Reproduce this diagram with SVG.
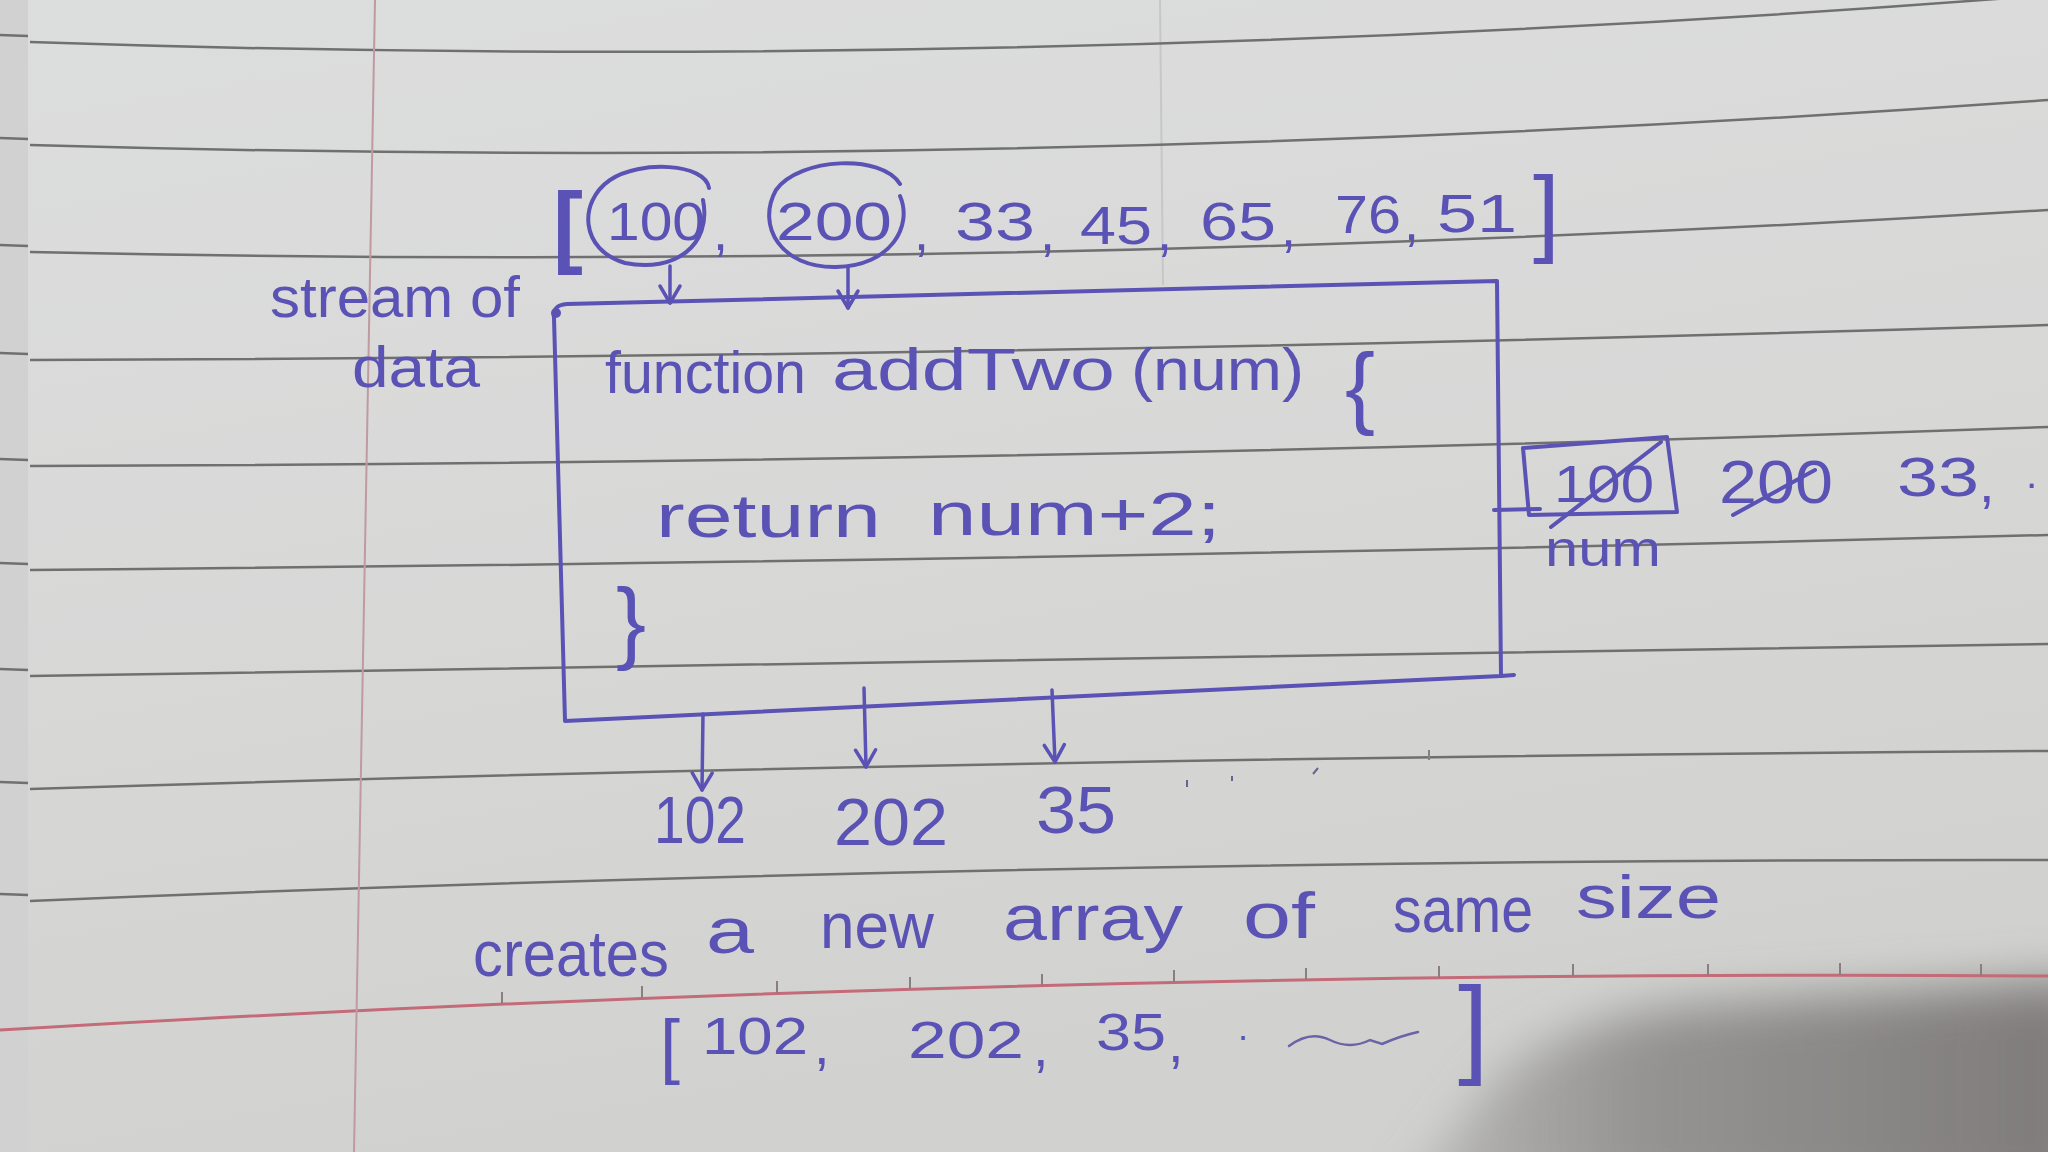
<svg xmlns="http://www.w3.org/2000/svg" width="2048" height="1152" viewBox="0 0 2048 1152">
  <defs>
    <linearGradient id="paper" x1="0" y1="0" x2="0.3" y2="1">
      <stop offset="0" stop-color="#dcdddd"/>
      <stop offset="0.6" stop-color="#d7d8d6"/>
      <stop offset="1" stop-color="#d1d2cf"/>
    </linearGradient>
    <linearGradient id="shade" x1="0" y1="0" x2="1" y2="0">
      <stop offset="0" stop-color="#8c8a89" stop-opacity="0.35"/>
      <stop offset="0.35" stop-color="#868483" stop-opacity="0.8"/>
      <stop offset="1" stop-color="#7d7a79" stop-opacity="1"/>
    </linearGradient>
    <filter id="blur" x="-20%" y="-30%" width="140%" height="160%">
      <feGaussianBlur stdDeviation="24"/>
    </filter>
    <marker id="vhead" viewBox="-20 -14 24 28" refX="0" refY="0" markerWidth="24" markerHeight="28" markerUnits="userSpaceOnUse" orient="auto">
      <path d="M -17,-10 L 0,0 L -17,10" fill="none" stroke="#5a52b4" stroke-width="3.5" stroke-linecap="round" stroke-linejoin="round"/>
    </marker>
    <style>
      .rule { fill: none; stroke: #6f706f; stroke-width: 2.5; }
      .red { fill: none; stroke: #c46a78; stroke-width: 3; }
      .tick { stroke: #8a7f80; stroke-width: 2; }
      .ink { fill: none; stroke: #5a52b4; stroke-width: 4; stroke-linecap: round; stroke-linejoin: round; }
      .conn { fill: none; stroke: #5a52b4; stroke-width: 3.5; stroke-linecap: round; marker-end: url(#vhead); }
      .hw { font-family: "Liberation Sans", "DejaVu Sans", sans-serif; fill: #5a52b4; }
    </style>
  </defs>

  <!-- paper -->
  <rect x="0" y="0" width="2048" height="1152" fill="url(#paper)"/>
  <rect x="0" y="0" width="28" height="1152" fill="#d0d1d0"/>
  <path d="M 1400,1200 L 1500,1075 Q 1580,1010 1720,1002 L 2090,978 L 2090,1200 Z" fill="url(#shade)" filter="url(#blur)"/>

  <!-- faint bleed-through margin of reverse page -->
  <line x1="1160" y1="0" x2="1163" y2="285" stroke="#c6c7c7" stroke-width="2"/>

  <!-- ruled lines -->
  <g id="ruling">
    <path class="rule" d="M 0,35 L 28,36 M 30,42 Q 1024,75.5 2048,-5"/>
    <path class="rule" d="M 0,138 L 28,139 M 30,145 Q 1024,173.5 2048,100"/>
    <path class="rule" d="M 0,245 L 28,246 M 30,252 Q 1024,273 2048,210"/>
    <path class="rule" d="M 0,353 L 28,354 M 30,360 Q 1024,357.5 2048,325"/>
    <path class="rule" d="M 0,459 L 28,460 M 30,466 Q 1024,463.5 2048,427"/>
    <path class="rule" d="M 0,563 L 28,564 M 30,570 Q 1024,561.5 2048,535"/>
    <path class="rule" d="M 0,669 L 28,670 M 30,676 Q 1024,664 2048,644"/>
    <path class="rule" d="M 0,782 L 28,783 M 30,789 Q 1024,757.5 2048,751"/>
    <path class="rule" d="M 0,894 L 28,895 M 30,901 Q 1024,859 2048,860"/>
    <path class="red" d="M 0,1030 Q 1024,969 2048,976"/>
    <line x1="375" y1="0" x2="354" y2="1152" stroke="#bf9aa1" stroke-width="2"/>
    <g>
      <line class="tick" x1="502" y1="1004" x2="502" y2="992"/>
      <line class="tick" x1="642" y1="998" x2="642" y2="986"/>
      <line class="tick" x1="777" y1="993" x2="777" y2="981"/>
      <line class="tick" x1="910" y1="989" x2="910" y2="977"/>
      <line class="tick" x1="1042" y1="986" x2="1042" y2="974"/>
      <line class="tick" x1="1174" y1="982" x2="1174" y2="970"/>
      <line class="tick" x1="1306" y1="980" x2="1306" y2="968"/>
      <line class="tick" x1="1439" y1="978" x2="1439" y2="966"/>
      <line class="tick" x1="1573" y1="976" x2="1573" y2="964"/>
      <line class="tick" x1="1708" y1="976" x2="1708" y2="964"/>
      <line class="tick" x1="1840" y1="975" x2="1840" y2="963"/>
      <line class="tick" x1="1981" y1="976" x2="1981" y2="964"/>
      <line class="tick" x1="1429" y1="760" x2="1429" y2="750"/>
    </g>
  </g>

  <!-- label: stream of data -->
  <g id="stream-label">
    <text class="hw" x="270" y="317" font-size="58" textLength="250" lengthAdjust="spacingAndGlyphs">stream of</text>
    <text class="hw" x="352" y="387" font-size="58" textLength="128" lengthAdjust="spacingAndGlyphs">data</text>
  </g>

  <!-- input array -->
  <g id="input-array">
    <text class="hw" x="553" y="256" font-size="90" font-weight="bold">[</text>
    <path class="ink" d="M 709,188 C 705,163 640,160 610,180 C 578,202 580,250 625,263 C 675,273 712,245 703,200"/>
    <path class="ink" d="M 900,184 C 882,154 800,157 776,190 C 756,226 781,268 836,267 C 891,266 913,226 900,196"/>
    <text class="hw" x="607" y="240" font-size="54" textLength="98" lengthAdjust="spacingAndGlyphs">100</text>
    <text class="hw" x="713" y="250" font-size="54">,</text>
    <text class="hw" x="776" y="240" font-size="54" textLength="116" lengthAdjust="spacingAndGlyphs">200</text>
    <text class="hw" x="914" y="250" font-size="54">,</text>
    <text class="hw" x="955" y="240" font-size="54" textLength="80" lengthAdjust="spacingAndGlyphs">33</text>
    <text class="hw" x="1040" y="250" font-size="54">,</text>
    <text class="hw" x="1080" y="244" font-size="54" textLength="72" lengthAdjust="spacingAndGlyphs">45</text>
    <text class="hw" x="1157" y="250" font-size="54">,</text>
    <text class="hw" x="1200" y="240" font-size="54" textLength="76" lengthAdjust="spacingAndGlyphs">65</text>
    <text class="hw" x="1281" y="246" font-size="54">,</text>
    <text class="hw" x="1335" y="233" font-size="54" textLength="66" lengthAdjust="spacingAndGlyphs">76</text>
    <text class="hw" x="1404" y="240" font-size="54">,</text>
    <text class="hw" x="1437" y="232" font-size="54" textLength="80" lengthAdjust="spacingAndGlyphs">51</text>
    <text class="hw" x="1533" y="244" font-size="96">]</text>
  </g>

  <!-- function box -->
  <g id="function-box">
    <path class="ink" d="M 565,721 L 554,318 Q 552,305 567,304 Q 1030,292 1497,281 L 1501,676 L 1514,675 M 1501,676 Q 1030,699 565,721"/>
    <circle cx="556" cy="313" r="5" fill="#5a52b4"/>
    <text class="hw" x="605" y="393" font-size="60" textLength="201" lengthAdjust="spacingAndGlyphs">function</text>
    <text class="hw" x="832" y="390" font-size="60" textLength="283" lengthAdjust="spacingAndGlyphs">addTwo</text>
    <text class="hw" x="1131" y="390" font-size="60" textLength="173" lengthAdjust="spacingAndGlyphs">(num)</text>
    <text class="hw" x="1345" y="417" font-size="90">{</text>
    <text class="hw" x="656" y="537" font-size="62" textLength="225" lengthAdjust="spacingAndGlyphs">return</text>
    <text class="hw" x="928" y="535" font-size="62" textLength="293" lengthAdjust="spacingAndGlyphs">num+2;</text>
    <text class="hw" x="616" y="652" font-size="90">}</text>
  </g>

  <!-- side trace: current value held in num -->
  <g id="side-trace">
    <line class="ink" x1="1494" y1="510" x2="1540" y2="509"/>
    <path class="ink" d="M 1523,448 L 1667,437 L 1677,512 L 1529,515 Z"/>
    <text class="hw" x="1554" y="502" font-size="52" textLength="100" lengthAdjust="spacingAndGlyphs">100</text>
    <line class="ink" x1="1551" y1="527" x2="1661" y2="442"/>
    <text class="hw" x="1719" y="503" font-size="62" textLength="114" lengthAdjust="spacingAndGlyphs">200</text>
    <line class="ink" x1="1733" y1="515" x2="1815" y2="470"/>
    <text class="hw" x="1897" y="496" font-size="56" textLength="82" lengthAdjust="spacingAndGlyphs">33</text>
    <text class="hw" x="1979" y="502" font-size="56">,</text>
    <text class="hw" x="2026" y="488" font-size="40">.</text>
    <text class="hw" x="1545" y="566" font-size="50" textLength="116" lengthAdjust="spacingAndGlyphs">num</text>
  </g>

  <!-- connectors -->
  <g id="connectors">
    <line class="conn" x1="670" y1="266" x2="670" y2="303"/>
    <line class="conn" x1="848" y1="267" x2="848" y2="308"/>
    <line class="conn" x1="703" y1="714" x2="702" y2="790"/>
    <line class="conn" x1="864" y1="688" x2="866" y2="767"/>
    <line class="conn" x1="1052" y1="690" x2="1055" y2="762"/>
  </g>

  <!-- outputs -->
  <g id="outputs">
    <text class="hw" x="654" y="843" font-size="66" textLength="92" lengthAdjust="spacingAndGlyphs">102</text>
    <text class="hw" x="834" y="845" font-size="66" textLength="114" lengthAdjust="spacingAndGlyphs">202</text>
    <text class="hw" x="1036" y="833" font-size="66" textLength="80" lengthAdjust="spacingAndGlyphs">35</text>
    <line x1="1187" y1="780" x2="1187" y2="787" stroke="#6a6390" stroke-width="2"/>
    <line x1="1232" y1="776" x2="1232" y2="781" stroke="#6a6390" stroke-width="2"/>
    <line x1="1313" y1="774" x2="1318" y2="768" stroke="#6a6390" stroke-width="2"/>
  </g>

  <!-- caption -->
  <g id="caption">
    <text class="hw" x="473" y="976" font-size="64" textLength="196" lengthAdjust="spacingAndGlyphs">creates</text>
    <text class="hw" x="706" y="953" font-size="64" textLength="48" lengthAdjust="spacingAndGlyphs">a</text>
    <text class="hw" x="820" y="948" font-size="64" textLength="114" lengthAdjust="spacingAndGlyphs">new</text>
    <text class="hw" x="1003" y="940" font-size="64" textLength="180" lengthAdjust="spacingAndGlyphs">array</text>
    <text class="hw" x="1243" y="938" font-size="64" textLength="72" lengthAdjust="spacingAndGlyphs">of</text>
    <text class="hw" x="1393" y="932" font-size="64" textLength="140" lengthAdjust="spacingAndGlyphs">same</text>
    <text class="hw" x="1576" y="918" font-size="62" textLength="145" lengthAdjust="spacingAndGlyphs">size</text>
  </g>

  <!-- result array -->
  <g id="result-array">
    <text class="hw" x="660" y="1070" font-size="72">[</text>
    <text class="hw" x="702" y="1054" font-size="52" textLength="106" lengthAdjust="spacingAndGlyphs">102</text>
    <text class="hw" x="814" y="1064" font-size="56">,</text>
    <text class="hw" x="908" y="1058" font-size="52" textLength="116" lengthAdjust="spacingAndGlyphs">202</text>
    <text class="hw" x="1033" y="1066" font-size="56">,</text>
    <text class="hw" x="1096" y="1050" font-size="52" textLength="70" lengthAdjust="spacingAndGlyphs">35</text>
    <text class="hw" x="1168" y="1062" font-size="56">,</text>
    <text class="hw" x="1238" y="1040" font-size="36">.</text>
    <path d="M 1289,1046 Q 1310,1030 1330,1040 Q 1350,1050 1370,1040 L 1382,1044 Q 1400,1036 1418,1032" fill="none" stroke="#6a63a8" stroke-width="2.5" stroke-linecap="round"/>
    <text class="hw" x="1458" y="1063" font-size="110">]</text>
  </g>
</svg>
